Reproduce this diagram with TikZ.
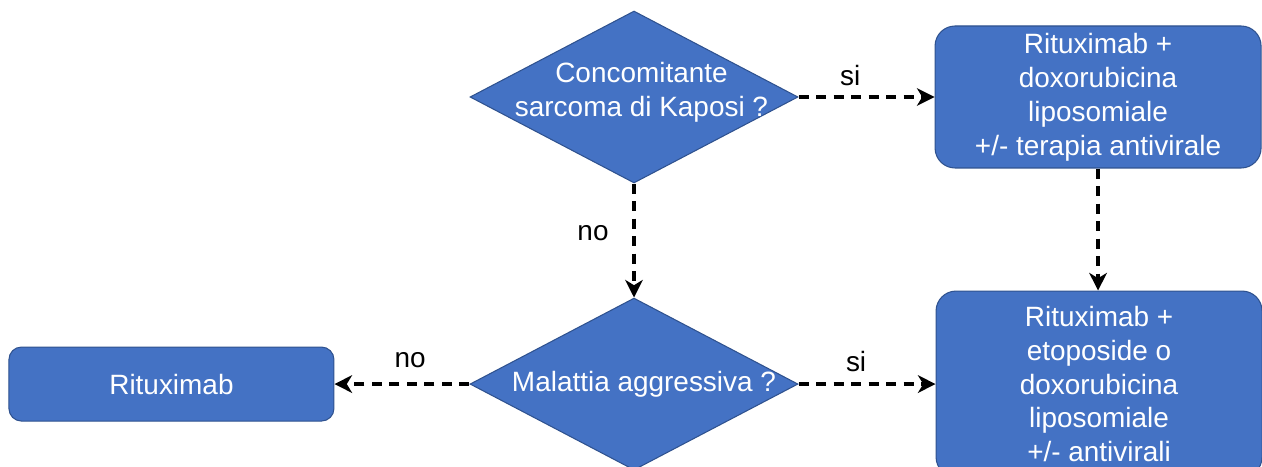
\documentclass[tikz,border=0pt]{standalone}
\usepackage{fontspec}
\setmainfont{Liberation Sans}
\usetikzlibrary{arrows.meta, shapes.geometric, positioning}

\begin{document}
\begin{tikzpicture}[
    node distance = 2.7cm,
    every node/.style = {font=\fontsize{15.9pt}{19.3pt}\selectfont},
    decision/.style = {
        diamond, aspect=1.9,
        fill={rgb,255:red,68;green,114;blue,196},
        draw={rgb,255:red,47;green,82;blue,143}, line width=0.6pt,
        minimum width=6.56cm, minimum height=3.44cm, inner sep=0pt
    },
    dtext/.style = {text=white, align=center},
    therapy/.style = {
        rectangle, rounded corners=0.4cm,
        fill={rgb,255:red,68;green,114;blue,196},
        draw={rgb,255:red,47;green,82;blue,143}, line width=0.6pt,
        text=white, minimum width=6.52cm, minimum height=2.84cm,
        align=center
    },
    arr/.style = {
        -{Stealth[length=10pt,width=10pt,inset=3pt]},
        line width=1.8pt, dash pattern=on 0.2cm off 0.15cm
    },
    lbl/.style = {text=black}
]
\useasboundingbox (0,0) rectangle (25.24,9.32);

%% Decisions
\node[decision, label={[dtext, xshift=0.15cm, yshift=0.1cm]center:Concomitante\\sarcoma di Kaposi ?}]
    (kaposi) at (12.68,7.38) {};
\node[decision, below=2.28cm of kaposi,
    label={[dtext, xshift=0.2cm]center:Malattia aggressiva ?}] (aggr) {};

%% Therapy nodes
\node[therapy, right=2.72cm of kaposi] (doxo)
    {Rituximab +\\doxorubicina\\liposomiale\\+/- terapia antivirale};
\node[therapy, right=2.74cm of aggr, minimum height=3.72cm] (etop)
    {Rituximab +\\etoposide o\\doxorubicina\\liposomiale\\+/- antivirali};
\node[therapy, left=2.7cm of aggr, rounded corners=0.25cm,
    minimum width=6.5cm, minimum height=1.48cm] (ritux) {Rituximab};

%% Arrows
\draw[arr] (kaposi) -- (doxo)
    node[lbl, pos=0.38, yshift=0.42cm] {si};
\draw[arr] (kaposi) -- (aggr)
    node[lbl, midway, xshift=-0.82cm, yshift=0.14cm] {no};
\draw[arr] (aggr) -- (ritux)
    node[lbl, pos=0.44, yshift=0.48cm] {no};
\draw[arr] (aggr) -- (etop)
    node[lbl, pos=0.42, yshift=0.46cm] {si};
\draw[arr] (doxo.south) -- (doxo.south |- etop.north);

\end{tikzpicture}
\end{document}
